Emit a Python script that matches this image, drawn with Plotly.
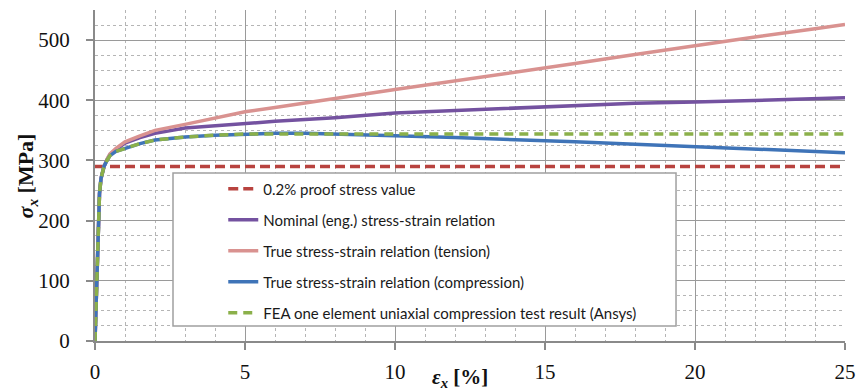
import plotly.graph_objects as go

# Strain values (%) shared by the measured / derived curves
strain = [0, 0.05, 0.1, 0.15, 0.2, 0.3, 0.4, 0.5, 0.7, 1, 1.5, 2, 3, 4, 5, 6, 7, 8,
          10, 12, 14, 15, 16, 18, 20, 22, 24, 25]

# Stress values (MPa)
nominal = [0, 100, 195, 245, 270, 290, 301, 310, 318, 329, 338, 345, 354, 358, 362, 365,
           368, 371, 379, 383, 387, 390, 391, 395, 397, 400, 403, 404]
true_tension = [0, 100, 195, 245, 270, 290, 302, 311, 320, 331, 341, 350, 360, 370, 381, 388,
                396, 403, 418, 432, 447, 454, 461, 476, 491, 505, 519, 526]
true_compression = [0, 100, 195, 245, 270, 290, 300, 308, 315, 320, 328, 334, 339, 342, 344, 345,
                    345, 344, 341, 338, 335, 333.5, 331, 327, 323, 319, 315, 313]
fea_compression = [0, 100, 195, 245, 270, 290, 300, 308, 315, 320, 328, 334, 339, 342, 344, 344,
                   344, 344, 344, 344, 344, 344, 344, 344, 344, 344, 344, 344]

proof_strain = [0, 25]
proof_stress = [290, 290]

labels = [
    "0.2% proof stress value",
    "Nominal (eng.) stress-strain relation",
    "True stress-strain relation (tension)",
    "True stress-strain relation (compression)",
    "FEA one element uniaxial compression test result (Ansys)",
]

fig = go.Figure()
fig.add_trace(go.Scatter(x=proof_strain, y=proof_stress, mode="lines", name=labels[0],
                         legendgroup="a",
                         line=dict(color="#B8433F", width=3.5, dash="10px,5px")))
fig.add_trace(go.Scatter(x=strain, y=nominal, mode="lines", name=labels[1], legendgroup="b",
                         line=dict(color="#7452A0", width=3.5)))
fig.add_trace(go.Scatter(x=strain, y=true_tension, mode="lines", name=labels[2], legendgroup="c",
                         line=dict(color="#D99290", width=3.5)))
fig.add_trace(go.Scatter(x=strain, y=true_compression, mode="lines", name=labels[3],
                         legendgroup="d", line=dict(color="#3F74B8", width=3.5)))
fig.add_trace(go.Scatter(x=strain, y=fea_compression, mode="lines", name=labels[4],
                         legendgroup="e",
                         line=dict(color="#8BB04A", width=3.5, dash="9px,6px")))

serif = "Liberation Serif, Times New Roman, serif"
tick_font = dict(family=serif, size=21, color="#111111")

fig.update_layout(
    width=858, height=392,
    margin=dict(l=95, r=13, t=10, b=51),
    paper_bgcolor="white", plot_bgcolor="white",
    showlegend=True,
    legend=dict(x=0.171, y=0.509, xanchor="left", yanchor="top",
                bgcolor="rgba(0,0,0,0)", borderwidth=0,
                font=dict(family="Lato", size=15, color="#1a1a1a"),
                tracegroupgap=8.5),
    xaxis=dict(range=[0, 25], dtick=5, tick0=0, automargin=False,
               showline=True, linecolor="#8a8a8a", linewidth=2,
               ticks="outside", ticklen=7, tickcolor="#8a8a8a", tickwidth=1.5,
               showgrid=True, gridcolor="#9a9a9a", gridwidth=1.3, zeroline=False,
               tickfont=tick_font, ticklabelstandoff=4,
               minor=dict(dtick=1, showgrid=True, gridcolor="#b5b5b5", griddash="dot",
                          gridwidth=1)),
    yaxis=dict(range=[0, 550], dtick=100, tick0=0, automargin=False,
               showline=True, linecolor="#8a8a8a", linewidth=2,
               ticks="outside", ticklen=7, tickcolor="#8a8a8a", tickwidth=1.5,
               showgrid=True, gridcolor="#9a9a9a", gridwidth=1.3, zeroline=False,
               tickfont=tick_font, ticklabelstandoff=12,
               minor=dict(dtick=25, showgrid=True, gridcolor="#b5b5b5", griddash="dot",
                          gridwidth=1)),
    shapes=[dict(type="rect", xref="paper", yref="paper",
                 x0=0.104, x1=0.7747, y0=0.0453, y1=0.5076,
                 fillcolor="white", line=dict(color="#a0a0a0", width=1.5), layer="above")],
    annotations=[
        dict(text="<b><i>σ<sub>x</sub></i> [MPa]</b>", xref="paper", yref="paper",
             x=-0.0907, y=0.5, xanchor="center", yanchor="middle",
             textangle=-90, showarrow=False,
             font=dict(family=serif, size=22, color="#111111")),
        dict(text="<b><i>ε<sub>x</sub></i> [%]</b>", xref="paper", yref="paper",
             x=0.487, y=-0.113, xanchor="center", yanchor="middle", showarrow=False,
             font=dict(family=serif, size=21, color="#111111")),
    ],
)

fig.write_html("out.html")
